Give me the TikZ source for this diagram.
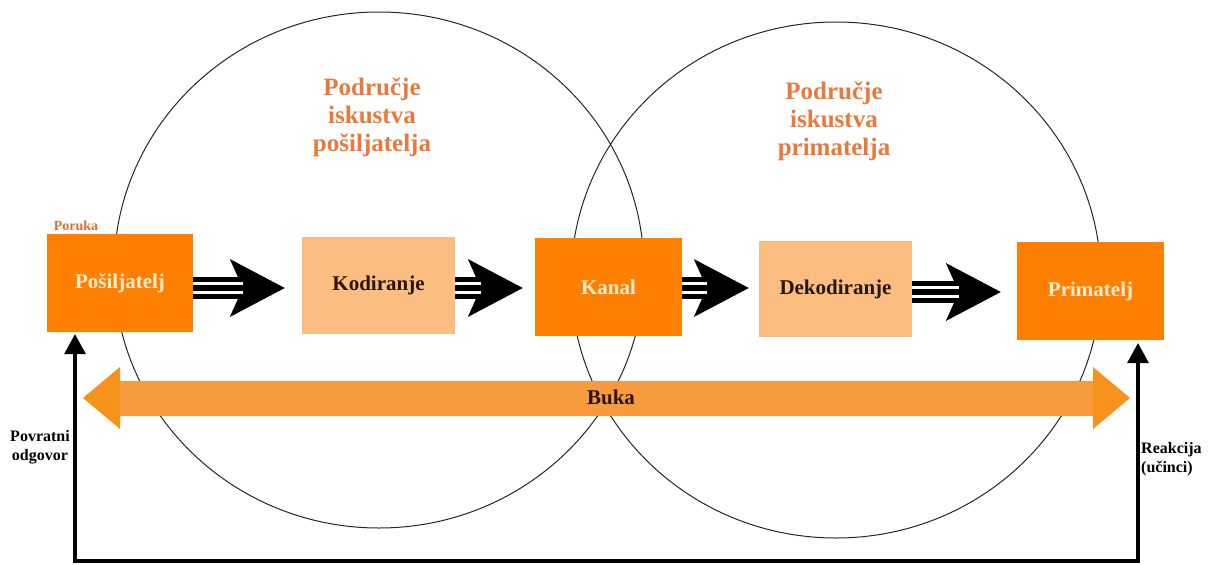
\documentclass[tikz,border=0pt]{standalone}
\usepackage{fontspec}
\setmainfont{Liberation Serif}
\usetikzlibrary{arrows.meta,calc}
\definecolor{orD}{RGB}{255,128,0}
\definecolor{orL}{RGB}{251,190,128}
\definecolor{headc}{RGB}{233,120,58}
\definecolor{cream}{RGB}{255,238,205}
\definecolor{darktxt}{RGB}{40,22,12}
\definecolor{bukaS}{RGB}{247,154,62}
\definecolor{bukaH}{RGB}{247,146,28}
\definecolor{porukc}{RGB}{214,112,52}
\newcommand\fatarr[4]{%
  \path ($(#1.east)+(0,#3)$) coordinate (fs);
  \path (fs -| #2.west) coordinate (fe);
  \draw[line width=22pt,-{Stealth[length=55pt,width=58pt,inset=13pt,line width=0pt]},shorten >=#4pt] (fs) -- (fe);
  \draw[white,line width=3pt] ($(fs)+(0,-4.3)$) -- ($(fe)+(-#4-42,-4.3)$);
  \draw[white,line width=3pt] ($(fs)+(0,4.3)$) -- ($(fe)+(-#4-42,4.3)$);
}
\begin{document}
\begin{tikzpicture}[x=1pt,y=-1pt,
  boxlbl/.style={font=\bfseries\fontsize{21}{24}\selectfont,inner sep=0pt},
  darkbox/.style={boxlbl,fill=orD,text=cream,minimum height=98pt},
  lightbox/.style={boxlbl,fill=orL,text=darktxt,minimum height=97pt},
  heading/.style={font=\bfseries\fontsize{25}{28}\selectfont,text=headc,align=center,inner sep=0pt},
  sidelbl/.style={font=\bfseries\fontsize{16}{19}\selectfont,text=black,inner sep=0pt},
  fb/.style={line width=3.5pt,{Triangle[length=20pt,width=22pt,line width=0pt]}-{Triangle[length=20pt,width=22pt,line width=0pt]}},
  ring/.style={line width=1pt,draw=black!85}]
\useasboundingbox (0,0) rectangle (1211,565);
% experience fields
\draw[ring] (379,270) ellipse [x radius=265, y radius=258];
\draw[ring] (836,280) ellipse [x radius=265, y radius=258];
\node[heading] (hl) at (372,117) {Područje\\iskustva\\pošiljatelja};
\node[heading] (hr) at (834,121) {Područje\\iskustva\\primatelja};
% boxes
\node[darkbox,minimum width=146pt] (pos) at (120,283) {Pošiljatelj};
\node[lightbox,minimum width=153pt] (kod) at (378.5,285.5) {Kodiranje};
\node[darkbox,minimum width=147pt] (kan) at (608.5,287) {Kanal};
\node[lightbox,minimum width=153pt,minimum height=96pt] (dek) at (835.5,289) {Dekodiranje};
\node[darkbox,minimum width=147pt] (prim) at (1090.5,291) {Primatelj};
\node[font=\bfseries\fontsize{14}{16}\selectfont,text=porukc,inner sep=0pt] (por) at (76,226) {Poruka};
% fat arrows
\fatarr{pos}{kod}{5}{17}
\fatarr{kod}{kan}{2.5}{12}
\fatarr{kan}{dek}{1}{10}
\fatarr{dek}{prim}{3}{16}
% noise
\coordinate (bl) at (83,398);
\coordinate (br) at (1130,398);
\draw[bukaS,line width=35pt,{Triangle[length=37pt,width=62pt,line width=0pt,color=bukaH]}-{Triangle[length=37pt,width=62pt,line width=0pt,color=bukaH]}] (bl) -- (br);
\node[font=\bfseries\fontsize{21}{24}\selectfont,text=darktxt,inner sep=0pt] (buka) at (611,397) {Buka};
% feedback
\coordinate (fbL) at (75,561);
\coordinate (fbR) at (1138,561);
\draw[fb,shorten <=2pt,shorten >=3pt] (fbL |- pos.south) -- (fbL) -- (fbR) -- (fbR |- prim.south);
\node[sidelbl,align=center] (povr) at (40,447) {Povratni\\odgovor};
\node[sidelbl,align=left,anchor=west] (reak) at (1141,459) {Reakcija\\(učinci)};
\end{tikzpicture}
\end{document}
